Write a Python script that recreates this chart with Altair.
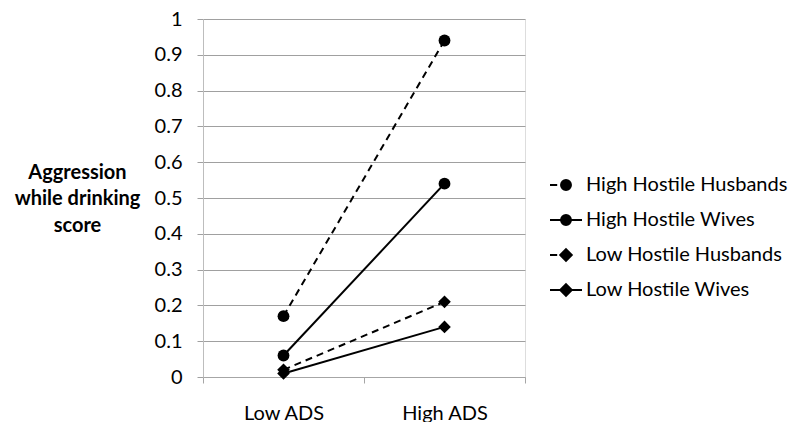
import altair as alt
import pandas as pd

categories = ["Low ADS", "High ADS"]
series = ["High Hostile Husbands", "High Hostile Wives", "Low Hostile Husbands", "Low Hostile Wives"]
high_hostile_husbands = [0.17, 0.94]
high_hostile_wives = [0.06, 0.54]
low_hostile_husbands = [0.02, 0.21]
low_hostile_wives = [0.01, 0.14]
y_ticks = [0, 0.1, 0.2, 0.3, 0.4, 0.5, 0.6, 0.7, 0.8, 0.9, 1]

rows = []
for name, vals in zip(series, [high_hostile_husbands, high_hostile_wives,
                               low_hostile_husbands, low_hostile_wives]):
    for c, v in zip(categories, vals):
        rows.append({"group": c, "series": name, "value": v,
                     "marker": "circle" if name.startswith("High") else "diamond",
                     "dashed": name.endswith("Husbands")})
df = pd.DataFrame(rows)

FONT = "Lato"

x_enc = alt.X("group:N", sort=categories,
              scale=alt.Scale(domain=categories, paddingInner=0, paddingOuter=0),
              axis=alt.Axis(title=None, labelAngle=0, labelFont=FONT, labelFontSize=20,
                            labelColor="black", labelPadding=20, tickBand="extent",
                            tickSize=6, tickColor="#a6a6a6", domainColor="#a6a6a6",
                            grid=False))
y_enc = alt.Y("value:Q", scale=alt.Scale(domain=[0, 1], nice=False),
              axis=alt.Axis(values=y_ticks, format="~g",
                            title=["Aggression", "while drinking", "score"],
                            titleAngle=0, titleAlign="center", titleBaseline="middle",
                            titleX=-126, titleY=153, titleLineHeight=26.5,
                            titleFont=FONT, titleFontSize=20, titleFontWeight="bold",
                            titleColor="black",
                            labelFont=FONT, labelFontSize=20, labelColor="black",
                            labelPadding=15, tickSize=6, tickColor="#a0a0a0",
                            gridColor="#a0a0a0", domainColor="#bdbdbd"))

dashed_lines = alt.Chart(df).transform_filter(alt.datum.dashed == True).mark_line(
    color="black", strokeWidth=2, strokeDash=[7, 5]
).encode(x=x_enc, y=y_enc, detail="series:N")

solid_lines = alt.Chart(df).transform_filter(alt.datum.dashed == False).mark_line(
    color="black", strokeWidth=2
).encode(x=x_enc, y=y_enc, detail="series:N")

circles = alt.Chart(df).transform_filter(alt.datum.marker == "circle").mark_point(
    shape="circle", filled=True, color="black", size=140, opacity=1
).encode(x=x_enc, y=y_enc)

diamonds = alt.Chart(df).transform_filter(alt.datum.marker == "diamond").mark_point(
    shape="diamond", filled=True, color="black", size=160, opacity=1
).encode(x=x_enc, y=y_enc)

# legend symbol paths (unit coordinates): line segment(s) with marker
circ = "M0.31,0 A0.31,0.31 0 1,1 -0.31,0 A0.31,0.31 0 1,1 0.31,0 Z"
diam = "M0,-0.36 L0.36,0 L0,0.36 L-0.36,0 Z"
legend_paths = [
    "M-1,0 L-0.55,0 " + circ,
    "M-1,0 L1,0 " + circ,
    "M-1,0 L-0.55,0 " + diam,
    "M-1,0 L1,0 " + diam,
]

legend_layer = alt.Chart(df).transform_filter("false").mark_point(
    fill="black", stroke="black", strokeWidth=2, opacity=1
).encode(
    x=x_enc, y=y_enc,
    shape=alt.Shape("series:N", scale=alt.Scale(domain=series, range=legend_paths),
                    legend=alt.Legend(title=None, orient="none", legendX=346, legendY=149,
                                      symbolSize=1024, labelFont=FONT, labelFontSize=20,
                                      labelColor="black", labelOffset=3, rowPadding=8,
                                      labelLimit=0, padding=0, symbolStrokeWidth=2)),
)

chart = alt.layer(dashed_lines, solid_lines, circles, diamonds, legend_layer).properties(
    width=322, height=358,
    autosize=alt.AutoSizeParams(type="none"),
    padding={"left": 195, "top": 11, "right": 267, "bottom": 45},
).configure_view(stroke=None).configure(background="white")

chart.save("out.html", embed_options={"renderer": "svg", "actions": False})
